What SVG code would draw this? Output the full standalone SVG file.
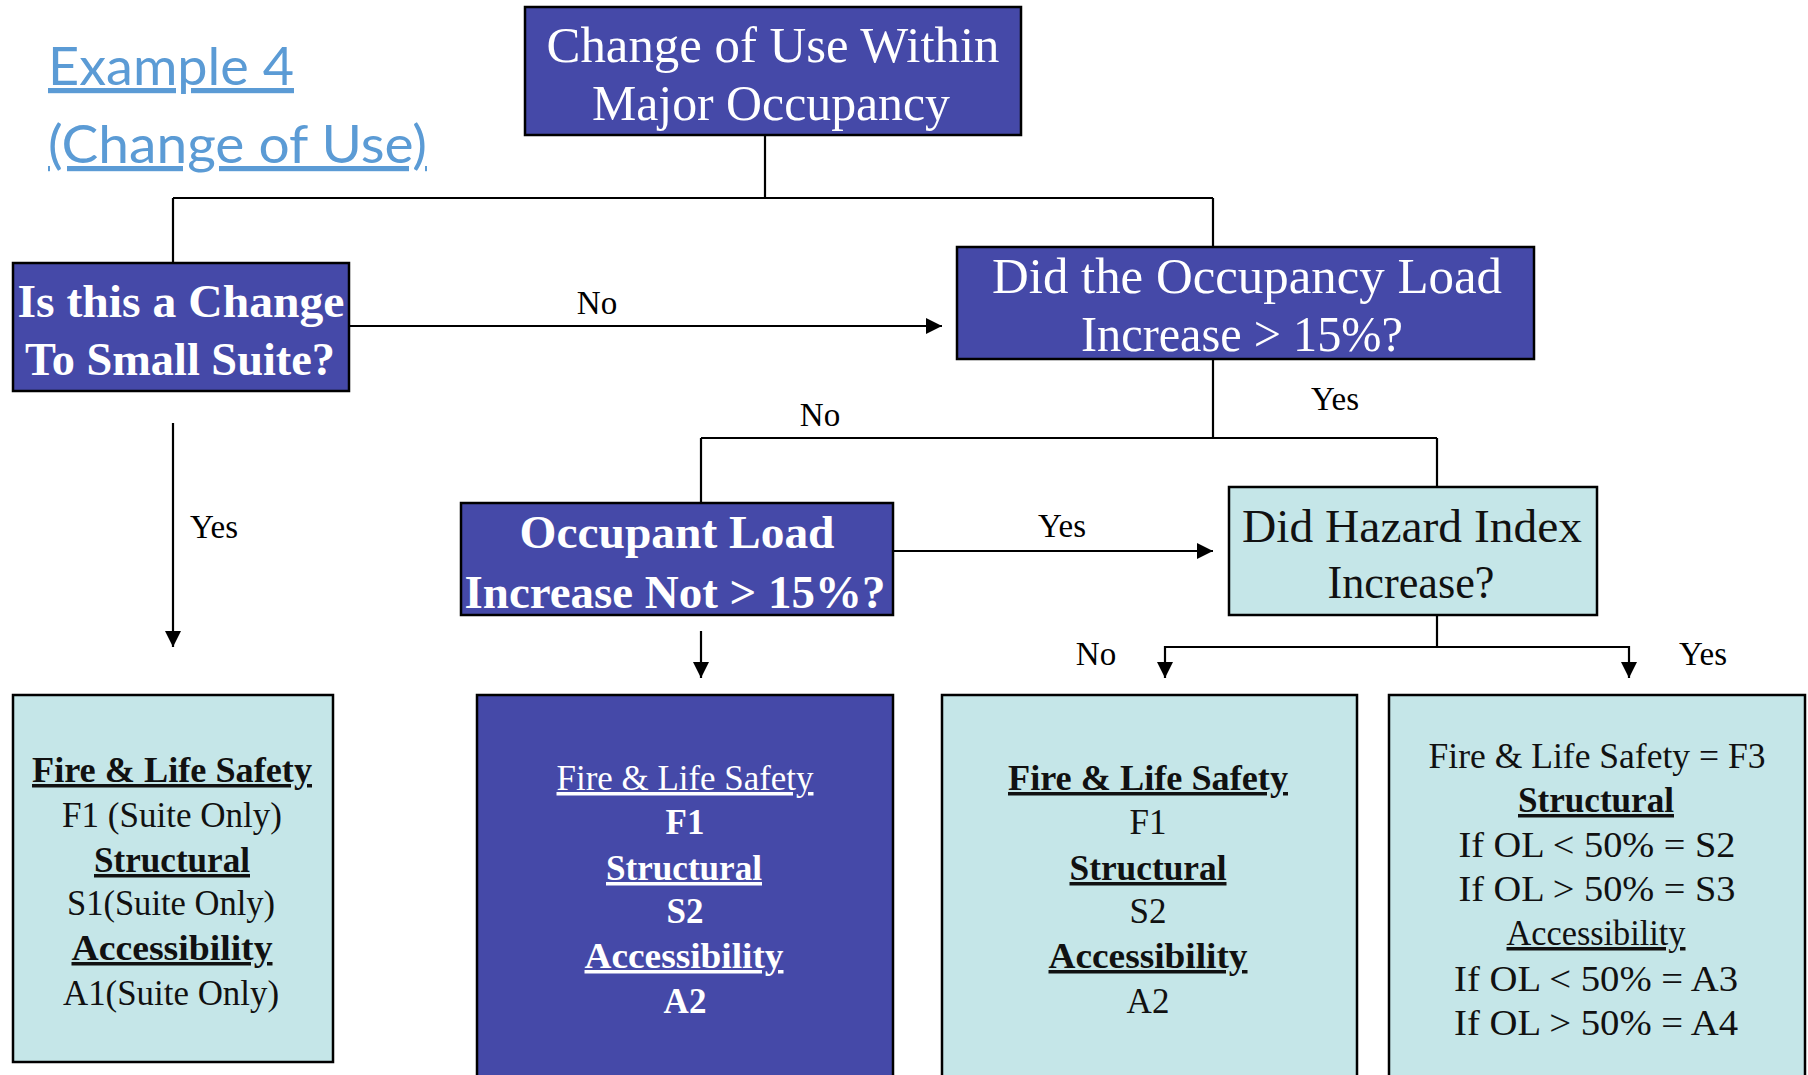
<svg xmlns="http://www.w3.org/2000/svg" width="1808" height="1075" viewBox="0 0 1808 1075">
<style>
.dark{fill:#4549A8;stroke:#000;stroke-width:2.5}
.light{fill:#C5E6E8;stroke:#000;stroke-width:2.5}
.ln{fill:none;stroke:#000;stroke-width:2.2}
.ser{font-family:"Liberation Serif","Times New Roman",serif;text-anchor:middle}
.w{fill:#fff}
.k{fill:#111}
.b{font-weight:bold}
.u{text-decoration:underline}
.lbl{font-family:"Liberation Serif","Times New Roman",serif;font-size:33px;fill:#000;text-anchor:middle}
.title{font-family:Lato,"Liberation Sans",sans-serif;font-size:52px;fill:#5B9BD5;text-decoration:underline}
.big{font-size:50px}
.q{font-size:47px}
.res{font-size:35px}
</style>
<defs>
<marker id="arr" markerUnits="userSpaceOnUse" markerWidth="16" markerHeight="16" viewBox="0 0 16 16" refX="16" refY="8" orient="auto">
<path d="M0,0 L16,8 L0,16 z" fill="#000"/>
</marker>
</defs>
<rect width="1808" height="1075" fill="#fff"/>

<g id="title">
<text class="title" x="48" y="85" textLength="246" lengthAdjust="spacingAndGlyphs">Example 4</text>
<text class="title" x="48" y="163" textLength="379" lengthAdjust="spacingAndGlyphs">(Change of Use)</text>
</g>

<g id="connectors">
<path class="ln" d="M765,135 V198 M173,198 H1213 M173,198 V263 M1213,198 V247"/>
<path class="ln" d="M1213,359 V438 M701,438 H1437 M701,438 V503 M1437,438 V486"/>
<path class="ln" d="M1437,615 V647 M1165,647 H1629"/>
<line class="ln" x1="173" y1="423" x2="173" y2="647" marker-end="url(#arr)"/>
<line class="ln" x1="349" y1="326" x2="942" y2="326" marker-end="url(#arr)"/>
<line class="ln" x1="701" y1="631" x2="701" y2="678" marker-end="url(#arr)"/>
<line class="ln" x1="893" y1="551" x2="1213" y2="551" marker-end="url(#arr)"/>
<line class="ln" x1="1165" y1="646" x2="1165" y2="678" marker-end="url(#arr)"/>
<line class="ln" x1="1629" y1="646" x2="1629" y2="678" marker-end="url(#arr)"/>
<text class="lbl" x="597" y="314">No</text>
<text class="lbl" x="1335" y="410">Yes</text>
<text class="lbl" x="820" y="426">No</text>
<text class="lbl" x="214" y="538">Yes</text>
<text class="lbl" x="1062" y="537">Yes</text>
<text class="lbl" x="1096" y="665">No</text>
<text class="lbl" x="1703" y="665">Yes</text>
</g>

<g id="n-top">
<rect class="dark" x="525" y="7" width="496" height="128"/>
<text class="ser w big" x="773" y="62" textLength="453" lengthAdjust="spacingAndGlyphs">Change of  Use Within</text>
<text class="ser w big" x="771" y="120" textLength="358" lengthAdjust="spacingAndGlyphs">Major Occupancy</text>
</g>

<g id="n-small-suite">
<rect class="dark" x="13" y="263" width="336" height="128"/>
<text class="ser w b q" x="181" y="317" textLength="327" lengthAdjust="spacingAndGlyphs">Is this a Change</text>
<text class="ser w b q" x="180" y="375" textLength="310" lengthAdjust="spacingAndGlyphs">To Small Suite?</text>
</g>

<g id="n-occ-load">
<rect class="dark" x="957" y="247" width="577" height="112"/>
<text class="ser w big" x="1247" y="293" textLength="510" lengthAdjust="spacingAndGlyphs">Did the Occupancy Load</text>
<text class="ser w big" x="1242" y="351" textLength="322" lengthAdjust="spacingAndGlyphs">Increase &gt; 15%?</text>
</g>

<g id="n-occupant">
<rect class="dark" x="461" y="503" width="432" height="112"/>
<text class="ser w b q" x="677" y="548" textLength="315" lengthAdjust="spacingAndGlyphs">Occupant Load</text>
<text class="ser w b q" x="675" y="608" textLength="421" lengthAdjust="spacingAndGlyphs">Increase Not &gt; 15%?</text>
</g>

<g id="n-hazard">
<rect class="light" x="1229" y="487" width="368" height="128"/>
<text class="ser k" font-size="46" x="1412" y="542" textLength="340" lengthAdjust="spacingAndGlyphs">Did Hazard Index</text>
<text class="ser k" font-size="46" x="1411" y="598" textLength="167" lengthAdjust="spacingAndGlyphs">Increase?</text>
</g>

<g id="r-suite">
<rect class="light" x="13" y="695" width="320" height="367"/>
<text class="ser k res b u" x="172" y="782" textLength="280" lengthAdjust="spacingAndGlyphs">Fire &amp; Life Safety</text>
<text class="ser k res" x="172" y="827" textLength="220" lengthAdjust="spacingAndGlyphs">F1 (Suite Only)</text>
<text class="ser k res b u" x="172" y="872" textLength="156" lengthAdjust="spacingAndGlyphs">Structural</text>
<text class="ser k res" x="171" y="915" textLength="208" lengthAdjust="spacingAndGlyphs">S1(Suite Only)</text>
<text class="ser k res b u" x="172" y="960" textLength="201" lengthAdjust="spacingAndGlyphs">Accessibility</text>
<text class="ser k res" x="171" y="1005" textLength="216" lengthAdjust="spacingAndGlyphs">A1(Suite Only)</text>
</g>

<g id="r-not15">
<rect class="dark" x="477" y="695" width="416" height="390"/>
<text class="ser w res u" x="685" y="790" textLength="257" lengthAdjust="spacingAndGlyphs">Fire &amp; Life Safety</text>
<text class="ser w res b" x="685" y="834">F1</text>
<text class="ser w res b u" x="684" y="880" textLength="156" lengthAdjust="spacingAndGlyphs">Structural</text>
<text class="ser w res b" x="685" y="923">S2</text>
<text class="ser w res b u" x="684" y="968" textLength="199" lengthAdjust="spacingAndGlyphs">Accessibility</text>
<text class="ser w res b" x="685" y="1013">A2</text>
</g>

<g id="r-nohazard">
<rect class="light" x="942" y="695" width="415" height="390"/>
<text class="ser k res b u" x="1148" y="790" textLength="280" lengthAdjust="spacingAndGlyphs">Fire &amp; Life Safety</text>
<text class="ser k res" x="1148" y="834">F1</text>
<text class="ser k res b u" x="1148" y="880" textLength="157" lengthAdjust="spacingAndGlyphs">Structural</text>
<text class="ser k res" x="1148" y="923">S2</text>
<text class="ser k res b u" x="1148" y="968" textLength="199" lengthAdjust="spacingAndGlyphs">Accessibility</text>
<text class="ser k res" x="1148" y="1013">A2</text>
</g>

<g id="r-hazard">
<rect class="light" x="1389" y="695" width="416" height="390"/>
<text class="ser k res" x="1597" y="768" textLength="337" lengthAdjust="spacingAndGlyphs">Fire &amp; Life Safety = F3</text>
<text class="ser k res b u" x="1596" y="812" textLength="156" lengthAdjust="spacingAndGlyphs">Structural</text>
<text class="ser k res" x="1597" y="857" textLength="277" lengthAdjust="spacingAndGlyphs">If OL &lt; 50% = S2</text>
<text class="ser k res" x="1597" y="901" textLength="277" lengthAdjust="spacingAndGlyphs">If OL &gt; 50% = S3</text>
<text class="ser k res u" x="1596" y="945" textLength="179" lengthAdjust="spacingAndGlyphs">Accessibility</text>
<text class="ser k res" x="1596" y="991" textLength="284" lengthAdjust="spacingAndGlyphs">If OL &lt; 50% = A3</text>
<text class="ser k res" x="1596" y="1035" textLength="284" lengthAdjust="spacingAndGlyphs">If OL &gt; 50% = A4</text>
</g>
</svg>
